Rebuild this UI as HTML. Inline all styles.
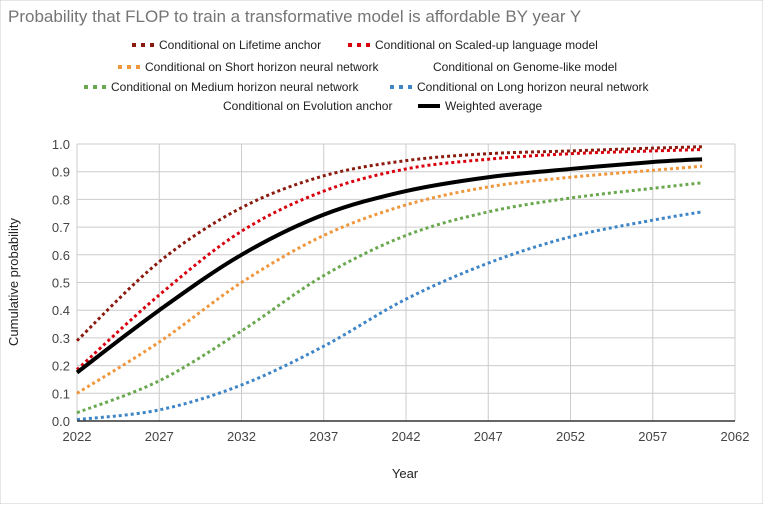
<!DOCTYPE html>
<html><head><meta charset="utf-8"><style>
body{margin:0;background:#fff;font-family:"Liberation Sans",Arial,sans-serif;}
svg text{font-family:"Liberation Sans",Arial,sans-serif;}
</style></head><body>
<svg id="c" width="763" height="504" viewBox="0 0 763 504">
<rect x="0" y="0" width="763" height="504" fill="#fff" stroke="#ccc"/>
<text x="8" y="22" font-size="17" fill="#757575">Probability that FLOP to train a transformative model is affordable BY year Y</text>
<g id="grid"></g><g id="series"></g><g id="axes"></g><g id="legend"></g>
<text x="405" y="478" font-size="13" fill="#222" text-anchor="middle">Year</text>
<text transform="translate(18,282) rotate(-90)" font-size="13" fill="#222" text-anchor="middle">Cumulative probability</text>
</svg>
<script>
const years=[2022,2027,2032,2037,2042,2047,2052,2057,2060];
const lifetime=[0.29,0.575,0.77,0.885,0.94,0.965,0.975,0.985,0.99];
const scaled=[0.185,0.455,0.685,0.83,0.91,0.945,0.965,0.975,0.98];
const shortH=[0.10,0.285,0.50,0.67,0.78,0.845,0.88,0.905,0.92];
const mediumH=[0.03,0.145,0.325,0.525,0.67,0.755,0.805,0.84,0.86];
const longH=[0.005,0.04,0.13,0.27,0.44,0.57,0.665,0.725,0.755];
const weighted=[0.175,0.40,0.60,0.745,0.83,0.88,0.91,0.935,0.945];
const xTicks=[2022,2027,2032,2037,2042,2047,2052,2057,2062];
const yTicks=[0,0.1,0.2,0.3,0.4,0.5,0.6,0.7,0.8,0.9,1.0];
const NS='http://www.w3.org/2000/svg';
const X0=77,X1=735,Y0=421,Y1=144;
const xs=v=>X0+(v-2022)/(2062-2022)*(X1-X0);
const ys=v=>Y0-v*(Y0-Y1);
function mk(tag,attrs,parent){const e=document.createElementNS(NS,tag);for(const k in attrs)e.setAttribute(k,attrs[k]);parent.appendChild(e);return e;}
const grid=document.getElementById('grid'),axes=document.getElementById('axes'),ser=document.getElementById('series'),leg=document.getElementById('legend');
yTicks.forEach(t=>{
 const l=mk('line',{x1:X0,x2:X1,y1:ys(t),y2:ys(t),stroke:'#ccc','stroke-width':1},grid);
 
 
 const tx=mk('text',{x:X0-7,y:ys(t)+5,'font-size':13,fill:'#444','text-anchor':'end'},axes);
 tx.textContent=t.toFixed(1);
 
 
});
xTicks.forEach(t=>{
 const l=mk('line',{x1:xs(t),x2:xs(t),y1:Y1,y2:Y0,stroke:'#ccc','stroke-width':1},grid);
 
 
 const tx=mk('text',{x:xs(t),y:Y0+20,'font-size':13,fill:'#444','text-anchor':'middle'},axes);
 tx.textContent=t;
 
 
});
const base=mk('line',{x1:X0,x2:X1,y1:Y0,y2:Y0,stroke:'#333','stroke-width':1.5},axes);


function pathFor(vals){
 const p=vals.map((v,i)=>[xs(years[i]),ys(v)]);
 let d='M'+p[0][0]+','+p[0][1];
 for(let i=0;i<p.length-1;i++){
  const p0=p[i-1]||p[i],p1=p[i],p2=p[i+1],p3=p[i+2]||p2;
  const c1=[p1[0]+(p2[0]-p0[0])/6,p1[1]+(p2[1]-p0[1])/6];
  const c2=[p2[0]-(p3[0]-p1[0])/6,p2[1]-(p3[1]-p1[1])/6];
  d+=' C'+c1+' '+c2+' '+p2;
 }
 return d;
}
const series=[
 {v:lifetime,c:'#8b1a0e',n:'lifetime-anchor-line'},
 {v:scaled,c:'#d9000d',n:'scaled-up-language-model-line'},
 {v:shortH,c:'#f0963c',n:'short-horizon-line'},
 {v:mediumH,c:'#6aa84f',n:'medium-horizon-line'},
 {v:longH,c:'#3d85c6',n:'long-horizon-line'}
];
series.forEach(s=>{
 const p=mk('path',{d:pathFor(s.v),fill:'none',stroke:s.c,'stroke-width':3,'stroke-dasharray':'3,3'},ser);
 
 
});
const w=mk('path',{d:pathFor(weighted),fill:'none',stroke:'#000','stroke-width':4},ser);


const legItems=[
 [132,49,'#8b1a0e',true,'Conditional on Lifetime anchor'],
 [348,49,'#d9000d',true,'Conditional on Scaled-up language model'],
 [118,71,'#f0963c',true,'Conditional on Short horizon neural network'],
 [406,71,'none',true,'Conditional on Genome-like model'],
 [84,91,'#6aa84f',true,'Conditional on Medium horizon neural network'],
 [390,91,'#3d85c6',true,'Conditional on Long horizon neural network'],
 [196,110,'none',true,'Conditional on Evolution anchor'],
 [418,110,'#000',false,'Weighted average']
];
legItems.forEach(it=>{
 const g=mk('g',{},leg);
 
 
 if(it[2]!=='none'){
  mk('line',{x1:it[0],x2:it[0]+22,y1:it[1]-4,y2:it[1]-4,stroke:it[2],'stroke-width':4,'stroke-dasharray':it[3]?'4,5':'none'},g);
 }
 const t=mk('text',{x:it[0]+27,y:it[1],'font-size':12,fill:'#222'},g);
 t.textContent=it[4];
});
</script>
</body></html>
